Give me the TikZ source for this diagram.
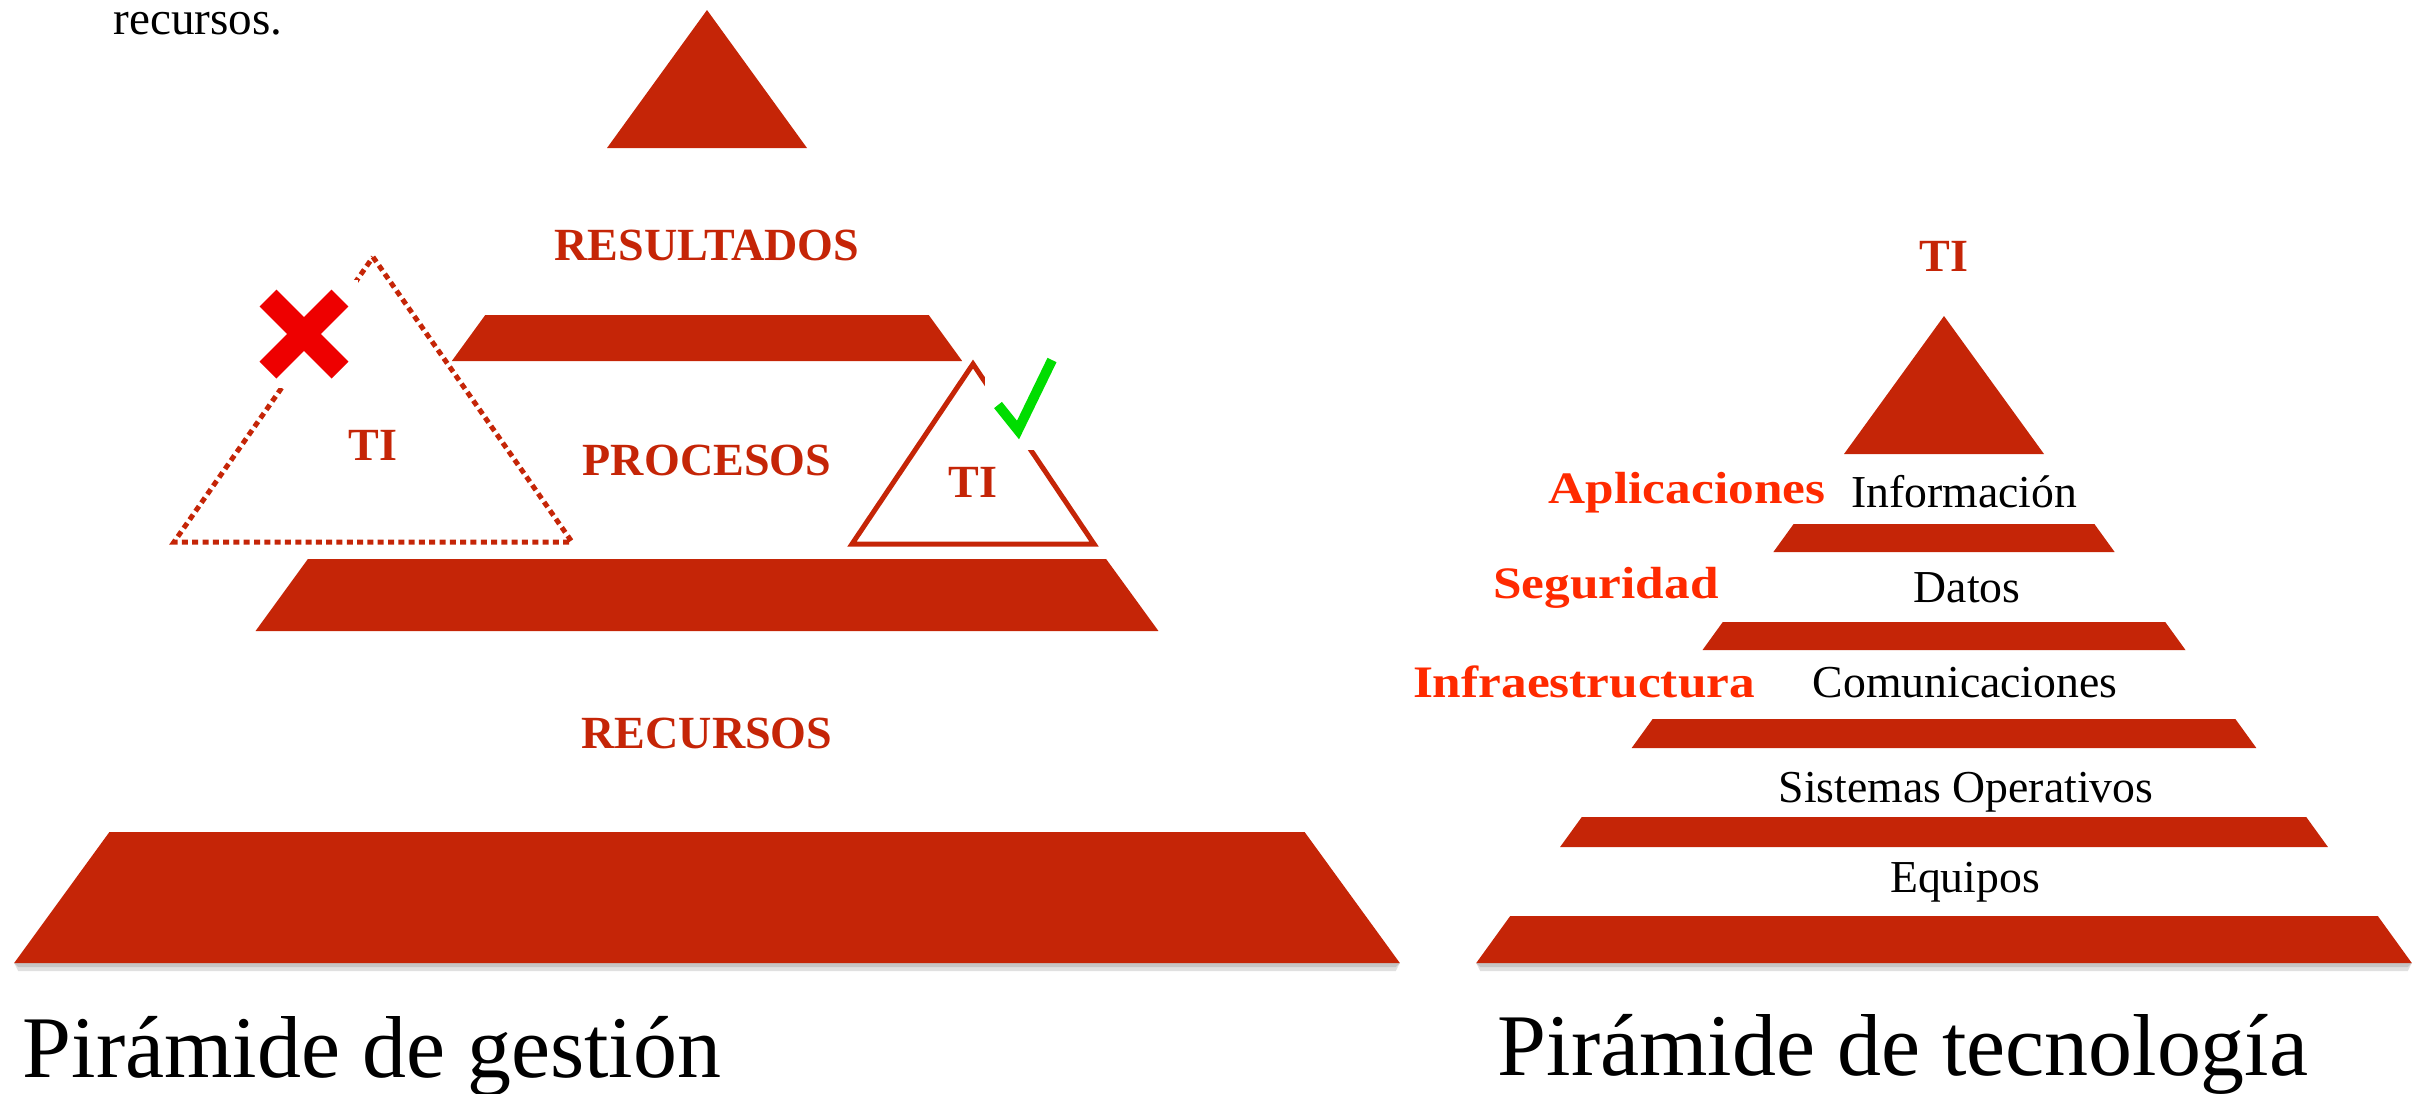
\documentclass[tikz,border=0pt]{standalone}
\usepackage{fontspec}
\setmainfont{Liberation Serif}

\definecolor{brick}{HTML}{C52507}
\definecolor{flame}{HTML}{FF2A00}
\definecolor{crossred}{HTML}{EE0000}
\definecolor{tickgreen}{HTML}{00DD00}

\tikzset{
  slab/.style = {fill = brick},
  castshadow/.style = {fill = black, opacity = 0.12},
  levelname/.style = {font = \bfseries\fontsize{13.1}{15}\selectfont, text = brick, anchor = base, inner sep = 0},
  layerlabel/.style = {font = \bfseries\fontsize{12.8}{15}\selectfont, text = flame, anchor = base, inner sep = 0, xscale = 1.14},
  tech/.style = {font = \fontsize{13}{15}\selectfont, anchor = base, inner sep = 0},
  caption/.style = {font = \fontsize{25}{29}\selectfont, anchor = base west, inner sep = 0},
  xmark/.style = {crossred, line width = 2.4mm},
  tick/.style = {tickgreen, line width = 1mm, line join = miter},
}

\begin{document}
\begin{tikzpicture}[x = 0.01cm, y = -0.01cm]
  \useasboundingbox (0, 0) rectangle (2424, 1093);

  \node (tail) [tech, anchor = base west, font = \fontsize{13.4}{16}\selectfont] at (113, 34) {recursos.};

  % piramide de gestion
  \fill [slab] (707, 10) -- (807, 148) -- (607, 148) -- cycle;
  \foreach \ya/\yb in {963/971, 963/967} {
    \fill [castshadow] ({707 - 0.727*(\ya - 10)}, \ya) -- ({707 + 0.727*(\ya - 10)}, \ya)
      -- ({707 + 0.727*(\ya - 10) - 4}, \yb) -- ({707 - 0.727*(\ya - 10) + 4}, \yb) -- cycle;
  }
  \foreach \ya/\yb in {315/361, 559/631, 832/963} {
    \fill [slab] ({707 - 0.727*(\ya - 10)}, \ya) -- ({707 + 0.727*(\ya - 10)}, \ya)
      -- ({707 + 0.727*(\yb - 10)}, \yb) -- ({707 - 0.727*(\yb - 10)}, \yb) -- cycle;
  }
  \node (res) [levelname] at (707, 260) {RESULTADOS};
  \node (proc) [levelname] at (707, 475) {PROCESOS};
  \node (recu) [levelname] at (707, 748) {RECURSOS};

  % TI fuera de la piramide
  \draw [brick, line width = 0.5mm, dash pattern = on 0.6mm off 0.43mm] (373, 257) -- (572, 542) -- (174, 542) -- cycle;
  \node (nogo) [fill = white, minimum size = 1.08cm, inner sep = 0] at (304, 334) {};
  \draw [xmark] ([shift = {(-36, -36)}]nogo.center) -- ([shift = {(36, 36)}]nogo.center);
  \draw [xmark] ([shift = {(-36, 36)}]nogo.center) -- ([shift = {(36, -36)}]nogo.center);
  \node (tiout) [levelname] at (373, 460) {TI};

  % TI dentro de la piramide
  \draw [brick, line width = 0.5mm] (973, 364) -- (1094, 544) -- (852, 544) -- cycle;
  \node (okbox) [fill = white, minimum width = 0.8cm, minimum height = 1.04cm, inner sep = 0] at (1025, 398) {};
  \draw [tick] ([shift = {(-27, 7)}]okbox.center) -- ([shift = {(-7, 32)}]okbox.center) -- ([shift = {(27, -38)}]okbox.center);
  \node (tiin) [levelname] at (973, 497) {TI};

  \node (capg) [caption] at (22, 1077) {Pirámide de gestión};

  % piramide de tecnologia
  \node (ti) [levelname] at (1944, 271) {TI};
  \fill [slab] (1944, 316) -- (2044, 454) -- (1844, 454) -- cycle;
  \foreach \ya/\yb in {963/971, 963/967} {
    \fill [castshadow] ({1944 - 0.723*(\ya - 316)}, \ya) -- ({1944 + 0.723*(\ya - 316)}, \ya)
      -- ({1944 + 0.723*(\ya - 316) - 4}, \yb) -- ({1944 - 0.723*(\ya - 316) + 4}, \yb) -- cycle;
  }
  \foreach \ya/\yb in {524/552, 622/650, 719/748, 817/847, 916/963} {
    \fill [slab] ({1944 - 0.723*(\ya - 316)}, \ya) -- ({1944 + 0.723*(\ya - 316)}, \ya)
      -- ({1944 + 0.723*(\yb - 316)}, \yb) -- ({1944 - 0.723*(\yb - 316)}, \yb) -- cycle;
  }
  \node (info) [tech] at (1964, 507) {Información};
  \node (datos) [tech] at (1967, 602) {Datos};
  \node (comu) [tech] at (1965, 697) {Comunicaciones};
  \node (so) [tech] at (1966, 802) {Sistemas Operativos};
  \node (equi) [tech] at (1965, 892) {Equipos};

  \node (apli) [layerlabel] at (1687, 503) {Aplicaciones};
  \node (segu) [layerlabel] at (1606, 598) {Seguridad};
  \node (infra) [layerlabel] at (1584, 697) {Infraestructura};

  \node (capt) [caption] at (1497, 1075) {Pirámide de tecnología};
\end{tikzpicture}
\end{document}
